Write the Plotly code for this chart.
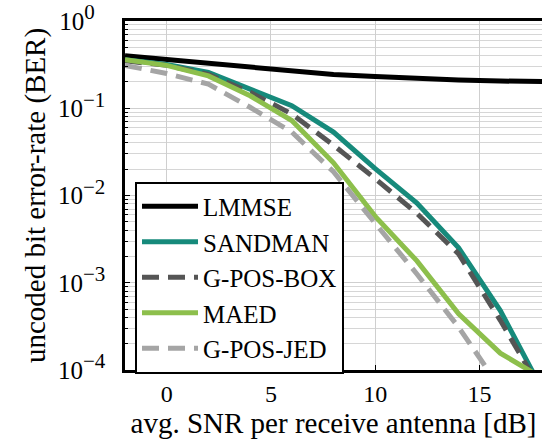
import plotly.graph_objects as go

snr = [-2, 0, 2, 4, 6, 8, 10, 12, 14, 16, 18]
lmmse = [0.40, 0.36, 0.333, 0.30, 0.263, 0.243, 0.231, 0.219, 0.211, 0.205, 0.203]
sandman = [0.36, 0.318, 0.257, 0.166, 0.107, 0.0533, 0.0203, 0.00818, 0.00251, 0.00048, 6.0e-5]
gpos_box = [0.35, 0.31, 0.245, 0.152, 0.086, 0.0377, 0.0156, 0.00624, 0.00214, 0.000371, 5.6e-5]
maed = [0.36, 0.31, 0.235, 0.139, 0.0724, 0.0237, 0.00577, 0.00178, 0.00044, 0.000156, 8.1e-5]
snr_jed = [-2, 0, 2, 4, 6, 8, 10, 12, 14, 16]
gpos_jed = [0.31, 0.25, 0.189, 0.1026, 0.0533, 0.0187, 0.0048, 0.00126, 0.00031, 6.2e-5]

y_tickvals = [1, 0.1, 0.01, 0.001, 0.0001]
y_exponents = ["0\u00a0\u00a0", "−1", "−2", "−3", "−4"]
x_tickvals = [0, 5, 10, 15]

FONT = "Liberation Serif"
y_ticktext = ["10<sup><span style='font-size:21px'>%s</span></sup>" % e for e in y_exponents]

fig = go.Figure()
fig.add_trace(go.Scatter(x=snr, y=lmmse, name="LMMSE", mode="lines",
                         line=dict(color="black", width=5)))
fig.add_trace(go.Scatter(x=snr, y=sandman, name="SANDMAN", mode="lines",
                         line=dict(color="#168a7b", width=5)))
fig.add_trace(go.Scatter(x=snr, y=gpos_box, name="G-POS-BOX", mode="lines",
                         line=dict(color="#555555", width=5, dash="17px,9px")))
fig.add_trace(go.Scatter(x=snr, y=maed, name="MAED", mode="lines",
                         line=dict(color="#8dbf4c", width=5)))
fig.add_trace(go.Scatter(x=snr_jed, y=gpos_jed, name="G-POS-JED", mode="lines",
                         line=dict(color="#a5a5a5", width=5, dash="17px,9px")))

fig.update_layout(
    width=542, height=445,
    margin=dict(l=125, r=0, t=18, b=75),
    paper_bgcolor="white", plot_bgcolor="white",
    font=dict(family=FONT, size=24, color="black"),
    showlegend=True,
    legend=dict(x=0.024, y=0.54, xanchor="left", yanchor="top",
                bgcolor="white", bordercolor="black", borderwidth=2,
                font=dict(family=FONT, size=25, color="black"), itemwidth=56,
                tracegroupgap=0),
)
fig.update_xaxes(
    range=[-2, 18], tickvals=x_tickvals, ticks="inside", ticklen=5,
    tickcolor="black", showline=True, linecolor="black", linewidth=2.5,
    mirror=True, showgrid=True, gridcolor="#cfcfcf", gridwidth=1,
    zeroline=False,
    title=dict(text="avg. SNR per receive antenna [dB]",
               font=dict(family=FONT, size=29, color="black"), standoff=6),
    tickfont=dict(family=FONT, size=24, color="black"),
)
fig.update_yaxes(
    type="log", range=[-4, 0], tickvals=y_tickvals, ticktext=y_ticktext,
    ticks="inside", ticklen=5, tickcolor="black", ticklabelstandoff=12,
    ticklabeloverflow="allow",
    showline=True, linecolor="black", linewidth=2.5, mirror=False,
    showgrid=True, gridcolor="#cfcfcf", gridwidth=1, zeroline=False,
    minor=dict(dtick="D1", ticks="inside", ticklen=3, tickcolor="black",
               showgrid=True, gridcolor="#d6d6d6", gridwidth=1),
    title=dict(text="uncoded bit error-rate (BER)",
               font=dict(family=FONT, size=29, color="black"), standoff=4),
    tickfont=dict(family=FONT, size=25, color="black"),
)

fig.write_html("out.html")
